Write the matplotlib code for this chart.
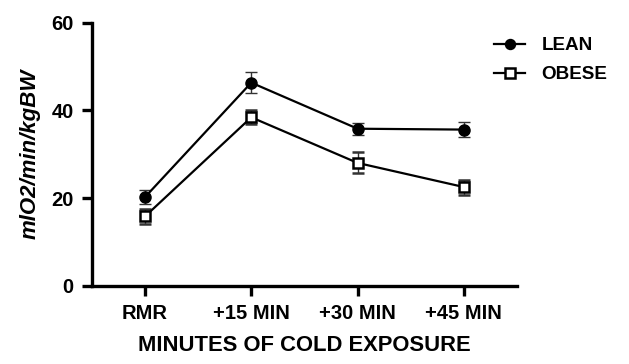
import numpy as np
import matplotlib.pyplot as plt

plt.rcParams['font.family'] = ['Liberation Sans', 'DejaVu Sans']

categories = ['RMR', '+15 MIN', '+30 MIN', '+45 MIN']
lean = [20.2, 46.3, 35.8, 35.6]
lean_err = [1.6, 2.4, 1.4, 1.8]
obese = [15.8, 38.4, 28.0, 22.5]
obese_err = [1.8, 1.6, 2.4, 1.7]

fig = plt.figure(figsize=(6.29, 3.64), dpi=100)
ax = fig.add_axes([0.146, 0.215, 0.676, 0.723])

x = np.arange(len(categories))
ax.errorbar(x, lean, yerr=lean_err, color='black', lw=1.6, marker='o',
            markersize=8, ecolor='#333333', elinewidth=1.0, capsize=4,
            capthick=1.0, label='LEAN', zorder=3)
ax.errorbar(x, obese, yerr=obese_err, color='black', lw=1.6, marker='s',
            markersize=7.5, markerfacecolor='white', markeredgewidth=1.8,
            ecolor='#333333', elinewidth=1.0, capsize=4, capthick=1.0,
            label='OBESE', zorder=3)

ax.set_xlim(-0.5, 3.5)
ax.set_ylim(0, 60)
ax.set_yticks([0, 20, 40, 60])
ax.set_xticks(x)
ax.set_xticklabels(categories)
for s in ['top', 'right']:
    ax.spines[s].set_visible(False)
for s in ['left', 'bottom']:
    ax.spines[s].set_linewidth(2.4)
ax.tick_params(width=2.4, length=7, labelsize=14.5, pad=6)
for lab in ax.get_xticklabels() + ax.get_yticklabels():
    lab.set_fontweight('bold')

ax.set_xlabel('MINUTES OF COLD EXPOSURE', fontsize=15.8, fontweight='bold', labelpad=9)
ax.set_ylabel('mlO2/min/kgBW', fontsize=16, fontweight='bold', style='italic', labelpad=8)

handles, labels = ax.get_legend_handles_labels()
handles = [h[0] for h in handles]
leg = fig.legend(handles, labels, loc='upper left', bbox_to_anchor=(0.759, 0.945),
                 frameon=False, handlelength=1.6, fontsize=13.6, labelspacing=0.62,
                 handletextpad=0.9, markerscale=0.9)
for t in leg.get_texts():
    t.set_fontweight('bold')

fig.savefig('out.png', dpi=100)
